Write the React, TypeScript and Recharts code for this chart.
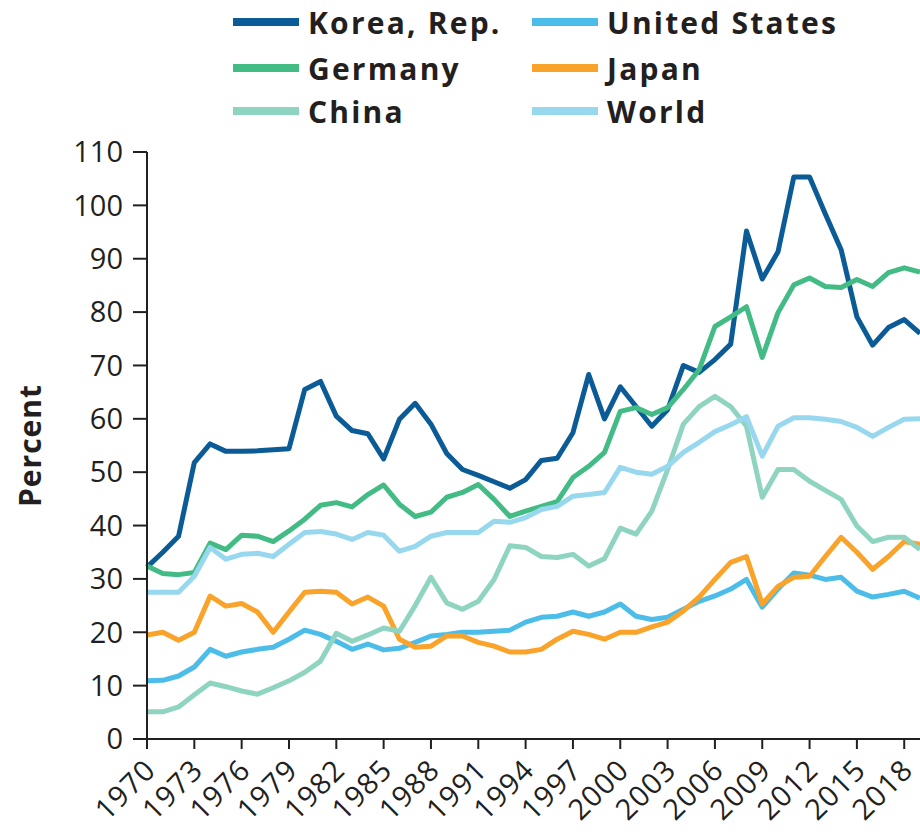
import { LineChart, Line, XAxis, YAxis } from 'recharts';

const years = [
  1970, 1971, 1972, 1973, 1974, 1975, 1976, 1977, 1978, 1979,
  1980, 1981, 1982, 1983, 1984, 1985, 1986, 1987, 1988, 1989,
  1990, 1991, 1992, 1993, 1994, 1995, 1996, 1997, 1998, 1999,
  2000, 2001, 2002, 2003, 2004, 2005, 2006, 2007, 2008, 2009,
  2010, 2011, 2012, 2013, 2014, 2015, 2016, 2017, 2018, 2019,
];

const korea = [
  32.2, 35, 38, 51.8, 55.3, 53.9, 53.9, 54, 54.2, 54.4,
  65.5, 67, 60.5, 57.8, 57.2, 52.5, 59.9, 62.9, 59, 53.5,
  50.5, 49.4, 48.2, 47, 48.6, 52.2, 52.6, 57.4, 68.3, 60,
  66, 62.3, 58.6, 61.7, 70, 68.7, 71.1, 74, 95.2, 86.2,
  91.3, 105.3, 105.3, 98.4, 91.7, 79.1, 73.8, 77.1, 78.6, 76,
];
const germany = [
  32.4, 31, 30.8, 31.2, 36.7, 35.5, 38.2, 38, 37, 39,
  41.2, 43.8, 44.3, 43.5, 45.8, 47.6, 44, 41.7, 42.5, 45.3,
  46.2, 47.7, 44.9, 41.7, 42.7, 43.6, 44.5, 49, 51.1, 53.7,
  61.4, 62.1, 60.8, 62.1, 65.5, 69.2, 77.3, 79.1, 81, 71.5,
  79.9, 85.1, 86.4, 84.8, 84.6, 86.1, 84.8, 87.4, 88.3, 87.5,
];
const china = [
  5.1, 5.1, 6, 8.3, 10.5, 9.8, 9, 8.4, 9.6, 10.9,
  12.5, 14.6, 19.8, 18.3, 19.5, 20.8, 20.2, 25, 30.3, 25.5,
  24.3, 25.8, 29.9, 36.2, 35.9, 34.2, 34, 34.6, 32.4, 33.8,
  39.5, 38.4, 42.7, 50.5, 59, 62.3, 64.2, 62.3, 58.6, 45.3,
  50.5, 50.5, 48.3, 46.6, 44.9, 39.9, 37, 37.8, 37.8, 35.5,
];
const japan = [
  19.5, 20, 18.5, 20, 26.8, 24.9, 25.4, 23.8, 20, 23.8,
  27.5, 27.7, 27.5, 25.3, 26.6, 24.9, 18.7, 17.2, 17.4, 19.3,
  19.3, 18.1, 17.4, 16.3, 16.3, 16.8, 18.7, 20.2, 19.6, 18.7,
  20, 20, 21, 21.9, 24, 26.6, 29.9, 33.1, 34.2, 25.3,
  28.6, 30.3, 30.5, 34.2, 37.8, 35, 31.8, 34.2, 37, 36.5,
];
const unitedStates = [
  10.9, 11, 11.8, 13.5, 16.8, 15.5, 16.3, 16.8, 17.2, 18.7,
  20.4, 19.6, 18.3, 16.8, 17.8, 16.7, 17, 18.1, 19.3, 19.6,
  20, 20, 20.2, 20.4, 21.9, 22.8, 23, 23.8, 23, 23.8,
  25.3, 23, 22.4, 22.8, 24.3, 25.8, 26.8, 28.1, 29.9, 24.7,
  28.1, 31.1, 30.7, 29.9, 30.3, 27.7, 26.6, 27.1, 27.7, 26.4,
];
const world = [
  27.5, 27.5, 27.5, 30.5, 35.9, 33.7, 34.6, 34.8, 34.2, 36.5,
  38.7, 38.9, 38.4, 37.4, 38.7, 38.2, 35.2, 36.1, 38, 38.7,
  38.7, 38.7, 40.8, 40.6, 41.5, 43, 43.6, 45.5, 45.8, 46.2,
  50.9, 50, 49.6, 51.1, 53.7, 55.6, 57.6, 58.9, 60.4, 53,
  58.6, 60.2, 60.2, 59.9, 59.5, 58.4, 56.7, 58.4, 59.9, 60,
];

const xTicks = [1970, 1973, 1976, 1979, 1982, 1985, 1988, 1991, 1994, 1997, 2000, 2003, 2006, 2009, 2012, 2015, 2018];
const yTicks = [0, 10, 20, 30, 40, 50, 60, 70, 80, 90, 100, 110];

const series = [
  { key: 'korea', name: 'Korea, Rep.', color: '#0b5c96' },
  { key: 'us', name: 'United States', color: '#4cbde8' },
  { key: 'germany', name: 'Germany', color: '#42bb85' },
  { key: 'japan', name: 'Japan', color: '#faa32b' },
  { key: 'china', name: 'China', color: '#8fd4c1' },
  { key: 'world', name: 'World', color: '#98d8ef' },
];

const FONT = '"Open Sans", "Noto Sans", sans-serif';
const INK = '#231f20';

// rotated year labels, top-right corner sits just under the tick
function XTick(props: any) {
  const { x, y, payload } = props;
  return (
    <g transform={`translate(${x - 4},${y + 6}) rotate(-45)`}>
      <text textAnchor="end" dy="0.71em" fontSize={29} letterSpacing={1.2} fill={INK} fontFamily={FONT}>
        {payload.value}
      </text>
    </g>
  );
}

function LegendBox() {
  const rows = [
    [series[0], series[1]],
    [series[2], series[3]],
    [series[4], series[5]],
  ];
  const rowY = [22, 68, 111];
  const colX = [233, 532];
  return (
    <div>
      {rows.map((row, r) =>
        row.map((s, c) => (
          <div
            key={s.key}
            style={{
              position: 'absolute',
              left: colX[c],
              top: rowY[r] - 20,
              height: 40,
              display: 'flex',
              alignItems: 'center',
              fontFamily: FONT,
              fontWeight: 700,
              fontSize: 30,
              letterSpacing: 2.2,
              color: INK,
              whiteSpace: 'nowrap',
            }}
          >
            <div style={{ width: 66, height: 8, background: s.color, marginRight: 9 }} />
            <span>{s.name}</span>
          </div>
        ))
      )}
    </div>
  );
}

export default function App() {
  const data = years.map((year, i) => ({
    year,
    korea: korea[i],
    us: unitedStates[i],
    germany: germany[i],
    japan: japan[i],
    china: china[i],
    world: world[i],
  }));

  return (
    <div
      style={{
        position: 'fixed',
        left: 0,
        top: 0,
        width: 920,
        height: 835,
        overflow: 'hidden',
        background: '#fff',
      }}
    >
      <LegendBox />
      <LineChart width={924} height={835} data={data} margin={{ top: 152, right: 4, bottom: 0, left: 0 }}>
        <XAxis
          dataKey="year"
          type="number"
          domain={[1970, 2019]}
          ticks={xTicks}
          interval={0}
          height={96}
          tickSize={10}
          tick={<XTick />}
          axisLine={{ stroke: INK, strokeWidth: 2 }}
          tickLine={{ stroke: INK, strokeWidth: 2 }}
        />
        <YAxis
          type="number"
          domain={[0, 110]}
          ticks={yTicks}
          interval={0}
          width={147}
          tickSize={14}
          tickMargin={10}
          tick={{ fill: INK, fontSize: 29, fontFamily: FONT }}
          axisLine={{ stroke: INK, strokeWidth: 2 }}
          tickLine={{ stroke: INK, strokeWidth: 2 }}
          label={{
            value: 'Percent',
            angle: -90,
            position: 'insideLeft',
            offset: 30,
            style: { textAnchor: 'middle', fontSize: 30, fontWeight: 700, letterSpacing: 1, fill: INK, fontFamily: FONT },
          }}
        />
        {series.map((s) => (
          <Line
            key={s.key}
            type="linear"
            dataKey={s.key}
            name={s.name}
            stroke={s.color}
            strokeWidth={5}
            strokeLinejoin="round"
            dot={false}
            activeDot={false}
            isAnimationActive={false}
          />
        ))}
      </LineChart>
    </div>
  );
}
